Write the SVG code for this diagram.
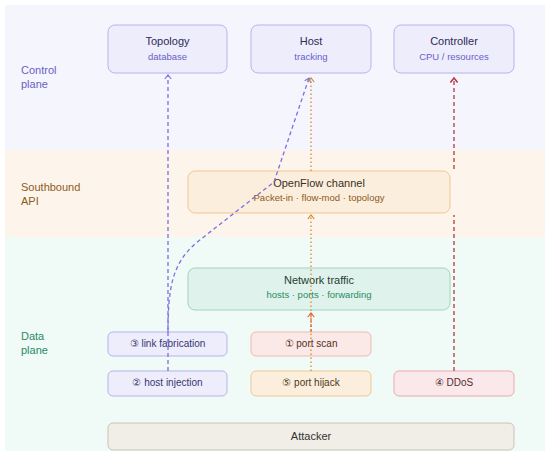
<svg xmlns="http://www.w3.org/2000/svg" width="550" height="457" viewBox="0 0 550 457">
<style>
text{font-family:"Liberation Sans",Arial,sans-serif;text-anchor:middle}
.lbl{text-anchor:start;font-size:11px}
.t{font-size:11px}
.s{font-size:9.5px}
.m{font-size:10px}
.ctl rect{fill:#ededfc;stroke:#b8b3ea;stroke-width:1}
.ctl .t{fill:#2f2b55}
.ctl .s{fill:#6a60c8}
.c{fill:none;stroke-width:1.3}
</style>
<defs>
<marker id="aP" viewBox="0 0 10 10" refX="8" refY="5" markerWidth="8" markerHeight="8" markerUnits="userSpaceOnUse" orient="auto"><path d="M3,1 L8,5 L3,9" fill="none" stroke="#7b6fe0" stroke-width="1.4"/></marker>
<marker id="aO" viewBox="0 0 10 10" refX="8" refY="5" markerWidth="8" markerHeight="8" markerUnits="userSpaceOnUse" orient="auto"><path d="M3,1 L8,5 L3,9" fill="none" stroke="#d38b2e" stroke-width="1.5"/></marker>
<marker id="aR" viewBox="0 0 10 10" refX="8" refY="5" markerWidth="8" markerHeight="8" markerUnits="userSpaceOnUse" orient="auto"><path d="M3,1 L8,5 L3,9" fill="none" stroke="#e4643c" stroke-width="1.5"/></marker>
<marker id="aD" viewBox="0 0 10 10" refX="8" refY="5" markerWidth="9" markerHeight="9" markerUnits="userSpaceOnUse" orient="auto"><path d="M3,1 L8,5 L3,9" fill="none" stroke="#b3393f" stroke-width="1.7"/></marker>
</defs>
<g id="bands">
<rect x="5" y="5" width="540" height="145" fill="#f5f5fe"/>
<rect x="5" y="150" width="540" height="87" fill="#fdf5eb"/>
<rect x="5" y="237" width="540" height="214" fill="#f0faf6"/>
<text class="lbl" x="21" y="74" fill="#6a60c8">Control</text>
<text class="lbl" x="21" y="88" fill="#6a60c8">plane</text>
<text class="lbl" x="21" y="191" fill="#8d5a22">Southbound</text>
<text class="lbl" x="21" y="205" fill="#8d5a22">API</text>
<text class="lbl" x="21" y="340" fill="#2a8a64">Data</text>
<text class="lbl" x="21" y="354" fill="#2a8a64">plane</text>
</g>
<g id="topology" class="ctl"><rect x="108" y="25" width="119" height="48" rx="7"/><text class="t" x="167.5" y="45">Topology</text><text class="s" x="167.5" y="60">database</text></g>
<g id="host" class="ctl"><rect x="251" y="25" width="120" height="48" rx="7"/><text class="t" x="311" y="45">Host</text><text class="s" x="311" y="60">tracking</text></g>
<g id="controller" class="ctl"><rect x="394" y="25" width="120" height="48" rx="7"/><text class="t" x="454" y="45">Controller</text><text class="s" x="454" y="60">CPU / resources</text></g>
<g id="openflow"><rect x="188" y="171" width="262" height="42" rx="7" fill="#fbeedc" stroke="#edc995"/><text class="t" x="319" y="187" fill="#3d2f1c">OpenFlow channel</text><text class="s" x="319" y="201" fill="#8d5a22">Packet-in · flow-mod · topology</text></g>
<g id="network"><rect x="188" y="268" width="262" height="42" rx="7" fill="#dff3ec" stroke="#a0d5c0"/><text class="t" x="319" y="284" fill="#1f3d33">Network traffic</text><text class="s" x="319" y="298" fill="#2a8a64">hosts · ports · forwarding</text></g>
<g id="link-fabrication"><rect x="108" y="332" width="119" height="24" rx="5" fill="#ededfc" stroke="#b8b3ea"/><text class="m" x="167.5" y="347" fill="#3a3570">③ link fabrication</text></g>
<g id="port-scan"><rect x="251" y="332" width="120" height="24" rx="5" fill="#fbe9e7" stroke="#eeb9b0"/><text class="m" x="311" y="347" fill="#5a2a25">① port scan</text></g>
<g id="host-injection"><rect x="108" y="371" width="119" height="25" rx="5" fill="#ededfc" stroke="#b8b3ea"/><text class="m" x="167.5" y="386" fill="#3a3570">② host injection</text></g>
<g id="port-hijack"><rect x="251" y="371" width="120" height="25" rx="5" fill="#fbeedc" stroke="#edc995"/><text class="m" x="311" y="386" fill="#4a3a20">⑤ port hijack</text></g>
<g id="ddos"><rect x="394" y="371" width="120" height="25" rx="5" fill="#fbe8ea" stroke="#e9a9b1"/><text class="m" x="454" y="386" fill="#5a2a2e">④ DDoS</text></g>
<g id="attacker"><rect x="108" y="423" width="406" height="27" rx="5" fill="#f1eee7" stroke="#c9c3b9"/><text class="t" x="311" y="440" fill="#333">Attacker</text></g>
<g id="connectors">
<path class="c" d="M168,371 L168,75" stroke="#7b6fe0" stroke-dasharray="4,3" marker-end="url(#aP)"/>
<path class="c" d="M168,332 C168,288 172,264 196,243 L274,182 L309,78" stroke="#7b6fe0" stroke-dasharray="4,3" marker-end="url(#aP)"/>
<path class="c" d="M311,371 L311,215" stroke="#d38b2e" stroke-width="1.6" stroke-dasharray="1.6,2.4" marker-end="url(#aO)"/>
<path class="c" d="M311,171 L311,78" stroke="#d38b2e" stroke-width="1.6" stroke-dasharray="1.6,2.4" marker-end="url(#aO)"/>
<path class="c" d="M311,332 L311,313" stroke="#e4643c" stroke-dasharray="3,2" marker-end="url(#aR)"/>
<path class="c" d="M454,371 L454,215" stroke="#b3393f" stroke-width="1.8" stroke-dasharray="4,3"/>
<path class="c" d="M454,169 L454,78" stroke="#b3393f" stroke-width="1.8" stroke-dasharray="4,3" marker-end="url(#aD)"/>
</g>
</svg>
